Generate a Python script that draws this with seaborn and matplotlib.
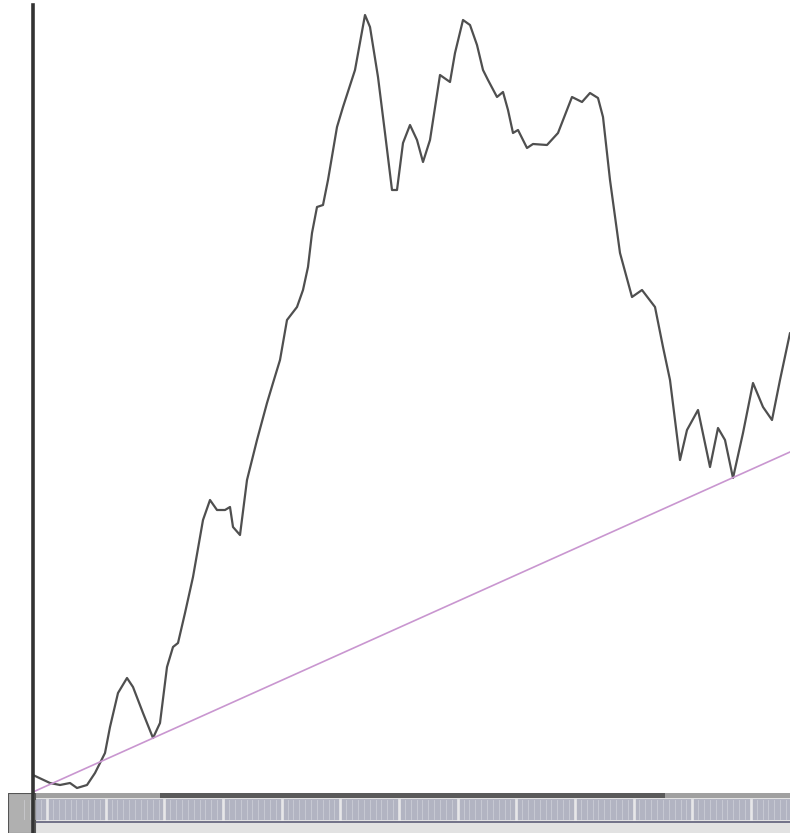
import numpy as np
import pandas as pd
import matplotlib
matplotlib.use("Agg")
import matplotlib.pyplot as plt
import seaborn as sns
from matplotlib.patches import Rectangle

# --- data (x = time index, y = price level) ---
day = [33, 50, 60, 70, 77, 87, 95, 105, 110, 118, 127, 133, 143, 153, 160, 167, 173, 178,
       185, 193, 203, 210, 217, 225, 230, 233, 240, 247, 257, 267, 273, 280, 287, 297, 303,
       308, 312, 317, 323, 328, 337, 343, 355, 365, 370, 378, 385, 392, 397, 403, 410, 417,
       423, 430, 440, 450, 455, 463, 470, 477, 483, 488, 497, 503, 508, 513, 518, 527, 533,
       547, 558, 572, 582, 590, 598, 603, 610, 620, 632, 642, 655, 663, 670, 680, 687, 698,
       710, 718, 725, 733, 743, 753, 763, 772, 780, 790]
price = [25, 17, 15, 17, 12, 15, 27, 47, 73, 107, 122, 113, 87, 62, 77, 133, 153, 157,
         187, 223, 280, 300, 290, 290, 293, 273, 265, 320, 360, 397, 417, 440, 480, 493, 510,
         533, 567, 593, 595, 620, 673, 693, 730, 785, 773, 723, 667, 610, 610, 657, 675, 660,
         638, 660, 725, 718, 747, 780, 775, 755, 730, 720, 703, 708, 690, 667, 670, 652, 656,
         655, 667, 703, 698, 707, 702, 683, 620, 547, 503, 510, 493, 453, 420, 340, 370, 390,
         333, 372, 360, 322, 367, 417, 393, 380, 420, 467]
trend_day = [33, 790]
trend_price = [8, 348]

df = pd.DataFrame({"day": day, "price": price})
tdf = pd.DataFrame({"day": trend_day, "price": trend_price})

W, H = 790, 833
fig = plt.figure(figsize=(W / 100, H / 100), dpi=100)
fig.patch.set_facecolor("white")

# bottom scroll strip
sax = fig.add_axes([8 / W, 0, (W - 8) / W, 40 / H], zorder=1)
sax.set_xlim(0, 1)
sax.set_ylim(0, 1)
sax.axis("off")
sax.add_patch(Rectangle((0, 0), 1, 1, facecolor="#e2e2e2", edgecolor="none"))
sax.add_patch(Rectangle((0, 0.88), 1, 0.12, facecolor="#a0a0a0", edgecolor="none"))
sax.add_patch(Rectangle((0.194, 0.88), 0.646, 0.12, facecolor="#5a5a5a", edgecolor="none"))
sax.add_patch(Rectangle((0, 0.33), 1, 0.52, facecolor="#b2b4c2", edgecolor="none"))
for xv in np.arange(0.02, 1.0, 0.0075):
    sax.plot([xv, xv], [0.36, 0.82], color="#e4e4ea", lw=0.6, alpha=0.5)
for xv in np.arange(0.05, 1.0, 0.075):
    sax.plot([xv, xv], [0.36, 0.82], color="#f0f0f0", lw=2.0, alpha=0.8)
sax.add_patch(Rectangle((0, 0.25), 1, 0.06, facecolor="#74748a", edgecolor="none"))
sax.add_patch(Rectangle((0, 0), 0.035, 1, facecolor="#b0b0b0", edgecolor="#555555", lw=0.8))

# main chart
ax = fig.add_axes([33 / W, 0, (W - 33) / W, (H - 5) / H], zorder=2)
ax.patch.set_alpha(0)
sns.lineplot(data=df, x="day", y="price", ax=ax, color="#4f4f4f", lw=1.6, clip_on=False,
             solid_joinstyle="round", solid_capstyle="round")
sns.lineplot(data=tdf, x="day", y="price", ax=ax, color="#c996d0", lw=1.2)
ax.set_xlim(33, 790)
ax.set_ylim(-33, 795)
for s in ["top", "right", "bottom"]:
    ax.spines[s].set_visible(False)
ax.spines["left"].set_color("#333333")
ax.spines["left"].set_linewidth(2.6)
ax.set_xticks([])
ax.set_yticks([])
ax.set_xlabel("")
ax.set_ylabel("")

fig.savefig("out.png", dpi=100, facecolor="white")
